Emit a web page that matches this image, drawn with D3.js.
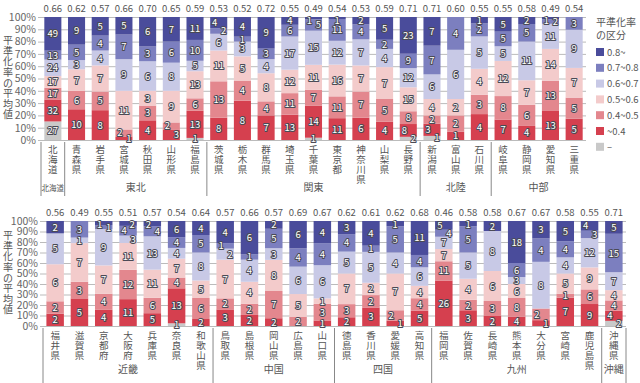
<!DOCTYPE html>
<html>
<head>
<meta charset="utf-8">
<script src="https://cdn.jsdelivr.net/npm/d3@7"></script>
<style>
body { margin: 0; background: #fff; }
svg { display: block; font-family: "Noto Sans CJK JP", "Noto Sans", sans-serif; }
</style>
</head>
<body>
<svg id="chart" width="640" height="383"></svg>
<script>
// prefectures, upper and lower panel
const prefsTop = ["北海道","青森県","岩手県","宮城県","秋田県","山形県","福島県","茨城県","栃木県","群馬県","埼玉県","千葉県","東京都","神奈川県","山梨県","長野県","新潟県","富山県","石川県","岐阜県","静岡県","愛知県","三重県"];
const prefsBottom = ["福井県","滋賀県","京都府","大阪府","兵庫県","奈良県","和歌山県","鳥取県","島根県","岡山県","広島県","山口県","徳島県","香川県","愛媛県","高知県","福岡県","佐賀県","長崎県","熊本県","大分県","宮崎県","鹿児島県","沖縄県"];

const avgTop = [0.66,0.62,0.57,0.66,0.70,0.65,0.59,0.53,0.52,0.72,0.55,0.49,0.54,0.53,0.59,0.71,0.71,0.60,0.55,0.55,0.58,0.49,0.54];
const avgBottom = [0.56,0.49,0.55,0.51,0.57,0.54,0.64,0.57,0.66,0.57,0.69,0.67,0.62,0.61,0.62,0.68,0.46,0.58,0.58,0.67,0.67,0.58,0.55,0.71];

const regionsTop = ["北海道","東北","関東","北陸","中部"];
const regionCountTop = [1, 6, 9, 3, 4];
const regionsBottom = ["近畿","中国","四国","九州","沖縄"];
const regionCountBottom = [7, 5, 4, 7, 1];

// number of municipalities per class (upper panel then lower panel)
const none = [27,0,0,0,0,0,1,0,0,0,0,1,0,0,0,2,1,0,0,0,0,0,0,
              0,0,0,0,0,1,0,0,0,0,0,0,0,0,0,0,0,0,0,0,0,0,0,2];
const lt04 = [32,10,8,1,4,3,13,8,8,7,13,14,11,6,4,8,3,1,4,7,4,13,5,
              2,5,4,11,5,13,2,3,2,2,0,1,2,3,1,5,26,3,2,4,1,7,9,4];
const r0405 = [17,6,5,2,3,2,6,13,4,4,11,7,11,7,5,8,2,2,3,8,6,13,5,
               2,3,4,12,6,4,6,2,2,7,2,3,3,2,2,4,11,2,3,8,2,1,6,4];
const r0506 = [17,7,7,11,3,9,13,11,5,8,12,11,16,7,7,15,4,2,4,12,7,14,7,
               6,7,7,11,11,7,5,7,4,8,5,1,7,2,7,4,7,4,6,6,0,5,9,4];
const r0607 = [24,3,4,9,6,8,5,6,3,4,17,15,12,7,4,12,6,6,5,5,11,11,9,
               5,1,9,3,13,4,8,2,4,3,6,6,5,5,4,6,7,5,8,3,8,4,12,7];
const r0708 = [13,5,4,7,3,6,10,2,1,3,6,5,11,4,2,9,7,4,2,5,5,2,3,
               0,3,1,4,4,4,5,1,1,5,4,4,4,1,5,4,4,5,0,6,4,4,3,15];
const ge08 = [49,9,5,5,6,7,11,4,4,9,4,1,1,2,5,23,7,0,1,5,2,1,0,
              2,0,1,2,2,6,4,4,6,2,6,4,3,4,1,11,5,1,2,18,3,5,4,5];

const keys = ["none","lt04","r0405","r0506","r0607","r0708","ge08"];
const series = { none, lt04, r0405, r0506, r0607, r0708, ge08 };
const legendLabels = ["0.8~","0.7~0.8","0.6~0.7","0.5~0.6","0.4~0.5","~0.4","–"];

const color = d3.scaleOrdinal()
    .domain(keys)
    .range(["#c9c9c9","#d5404f","#e3878e","#f3cbcb","#c8c9e6","#7c7fbf","#4a4c9b"]);

const svg = d3.select("#chart");

const drawPanel = (opt) => {
    const rows = opt.names.map((name, i) => {
        const row = { name: name, avg: opt.avg[i] };
        keys.forEach(k => row[k] = series[k][opt.offset + i]);
        return row;
    });

    const x = d3.scaleBand()
        .domain(opt.names)
        .range(opt.xRange)
        .paddingInner(0.28)
        .paddingOuter(0.14);
    const y = d3.scaleLinear().domain([0, 1]).range(opt.yRange);
    const gap = (x.step() - x.bandwidth()) / 2;

    const g = svg.append("g");

    // y axis with grid lines
    const axisX = opt.xRange[0] - 3;
    const yAxis = d3.axisLeft(y)
        .ticks(10)
        .tickFormat(d3.format(".0%"))
        .tickSizeInner(-(opt.xRange[1] - axisX))
        .tickSizeOuter(0)
        .tickPadding(2);
    const ax = g.append("g")
        .attr("transform", `translate(${axisX},0)`)
        .call(yAxis);
    ax.select(".domain").remove();
    ax.selectAll("line").attr("stroke", "#bbb");
    ax.selectAll("text")
        .attr("fill", "#666")
        .style("font-size", "10.5px")
        .style("font-family", "\"Noto Sans CJK JP\", sans-serif");

    // stacked bars
    const stacked = d3.stack().keys(keys).offset(d3.stackOffsetExpand)(rows);
    g.selectAll("g.layer")
        .data(stacked)
        .join("g")
        .attr("fill", d => color(d.key))
        .selectAll("rect")
        .data(d => d)
        .join("rect")
        .attr("x", d => x(d.data.name))
        .attr("width", x.bandwidth())
        .attr("y", d => y(d[1]))
        .attr("height", d => Math.max(0, y(d[0]) - y(d[1])));

    // segment labels, staggered when they crowd
    const labels = [];
    rows.forEach((row, i) => {
        const list = [];
        stacked.forEach(layer => {
            const d = layer[i];
            const v = row[layer.key];
            if (v > 0) {
                const my = Math.max((y(d[0]) + y(d[1])) / 2, y(1) + 3);
                list.push({ cx: x(row.name) + x.bandwidth() / 2, my: my, v: v, dx: 0 });
            }
        });
        for (let j = 1; j < list.length; j++) {
            if (list[j - 1].my - list[j].my < 9) {
                if (list[j - 1].dx === 0) { list[j - 1].dx = 5; list[j].dx = -4; }
                else list[j].dx = -list[j - 1].dx;
            }
        }
        labels.push(...list);
    });
    g.selectAll("text.seg")
        .data(labels)
        .join("text")
        .attr("class", "seg")
        .attr("x", d => d.cx + d.dx)
        .attr("y", d => d.my + 3.5)
        .attr("text-anchor", "middle")
        .attr("font-size", "9.5px")
        .attr("fill", "#fff")
        .attr("stroke", "#4a4a55")
        .attr("stroke-width", 2)
        .attr("stroke-linejoin", "round")
        .attr("paint-order", "stroke")
        .text(d => d.v);

    // average on top of each bar
    g.selectAll("text.avg")
        .data(rows)
        .join("text")
        .attr("x", d => x(d.name) + x.bandwidth() / 2)
        .attr("y", y(1) - 5)
        .attr("text-anchor", "middle")
        .attr("font-size", "9.5px")
        .attr("fill", "#555")
        .text(d => d3.format(".2f")(d.avg));

    // prefecture names, written top to bottom
    const nameText = g.selectAll("text.name")
        .data(rows)
        .join("text")
        .attr("text-anchor", "middle")
        .attr("font-size", "9.5px")
        .attr("fill", "#555");
    nameText.selectAll("tspan")
        .data(d => Array.from(d.name).map(c => ({ c: c, x: x(d.name) + x.bandwidth() / 2 })))
        .join("tspan")
        .attr("x", d => d.x)
        .attr("y", (d, k) => y(0) + 12.5 + k * 10)
        .text(d => d.c);

    // region separators and names
    let start = 0;
    opt.regions.forEach((r, k) => {
        const n = opt.regionCount[k];
        const left = x(opt.names[start]) - gap;
        const right = x(opt.names[start + n - 1]) + x.bandwidth() + gap;
        g.append("line")
            .attr("x1", left).attr("x2", left)
            .attr("y1", y(0) + 2).attr("y2", opt.sepBottom)
            .attr("stroke", "#888");
        if (opt.closeRight && k === opt.regions.length - 1) {
            g.append("line")
                .attr("x1", right).attr("x2", right)
                .attr("y1", y(0) + 2).attr("y2", opt.sepBottom)
                .attr("stroke", "#888");
        }
        g.append("text")
            .attr("x", (left + right) / 2)
            .attr("y", opt.regionY)
            .attr("text-anchor", "middle")
            .attr("font-size", n === 1 && r === "北海道" ? "7.5px" : "10px")
            .attr("fill", "#555")
            .text(r);
        start += n;
    });

    // y axis title, vertical
    const title = "平準化率の平均値";
    const midY = (opt.yRange[0] + opt.yRange[1]) / 2;
    g.append("text")
        .attr("text-anchor", "middle")
        .attr("font-size", "10px")
        .attr("fill", "#555")
        .selectAll("tspan")
        .data(Array.from(title))
        .join("tspan")
        .attr("x", 8)
        .attr("y", (d, k) => midY - (title.length / 2) * 10.6 + 8 + k * 10.6)
        .text(d => d);
};

drawPanel({
    names: prefsTop, avg: avgTop, offset: 0,
    xRange: [41, 586], yRange: [140, 17],
    regions: regionsTop, regionCount: regionCountTop,
    closeRight: false, sepBottom: 196, regionY: 191
});

drawPanel({
    names: prefsBottom, avg: avgBottom, offset: prefsTop.length,
    xRange: [43, 626], yRange: [326, 221],
    regions: regionsBottom, regionCount: regionCountBottom,
    closeRight: true, sepBottom: 383, regionY: 373
});

// legend
const legend = svg.append("g").attr("transform", "translate(596,0)");
legend.append("text").attr("x", 0).attr("y", 26).attr("font-size", "10px").attr("fill", "#555").text("平準化率");
legend.append("text").attr("x", 0).attr("y", 39).attr("font-size", "10px").attr("fill", "#555").text("の区分");
const legendKeys = keys.slice().reverse();
legend.selectAll("rect")
    .data(legendKeys)
    .join("rect")
    .attr("x", 0)
    .attr("y", (d, i) => 48 + i * 15.8)
    .attr("width", 8)
    .attr("height", 8)
    .attr("fill", d => color(d));
legend.selectAll("text.lab")
    .data(legendLabels)
    .join("text")
    .attr("class", "lab")
    .attr("x", 11)
    .attr("y", (d, i) => 55.5 + i * 15.8)
    .attr("font-size", "9.5px")
    .attr("fill", "#555")
    .text(d => d);
</script>
</body>
</html>
